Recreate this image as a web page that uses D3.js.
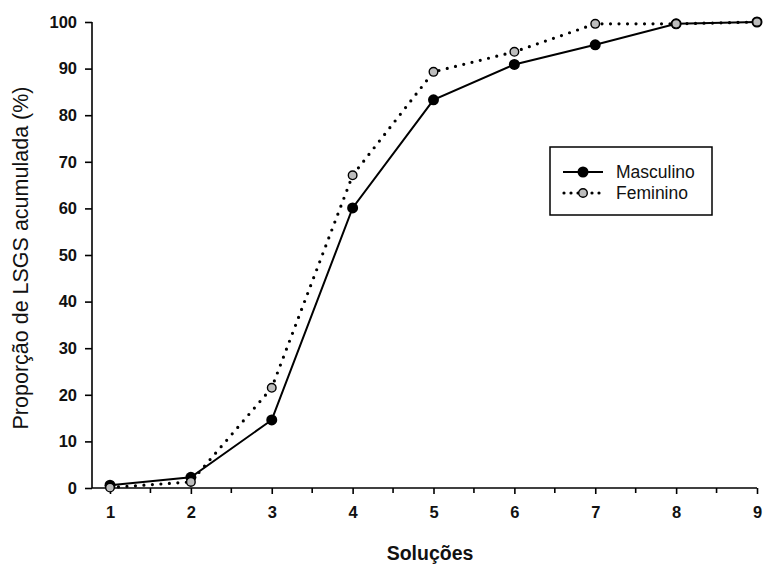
<!DOCTYPE html>
<html>
<head>
<meta charset="utf-8">
<script src="https://cdn.jsdelivr.net/npm/d3@7"></script>
<style>
  body { margin: 0; background: #fff; }
  svg { display: block; font-family: "Liberation Sans", Arial, sans-serif; }
</style>
</head>
<body>
<svg id="chart" width="763" height="566"></svg>
<script>
// Cumulative proportion of LSGS by number of solutions, per sex
const solucoes = [1, 2, 3, 4, 5, 6, 7, 8, 9];
const masculino = [0.6, 2.3, 14.6, 60.1, 83.3, 90.9, 95.1, 99.6, 100];
const feminino = [0.1, 1.3, 21.5, 67.1, 89.3, 93.6, 99.6, 99.6, 100];
const yTicks = [0, 10, 20, 30, 40, 50, 60, 70, 80, 90, 100];
const xTicks = [1, 2, 3, 4, 5, 6, 7, 8, 9];
const xMinorTicks = [1.5, 2.5, 3.5, 4.5, 5.5, 6.5, 7.5, 8.5];

const svg = d3.select("#chart");
const x = d3.scaleLinear().domain([1, 9]).range([110, 757]);
const y = d3.scaleLinear().domain([0, 100]).range([488, 22]);
const xLeft = 92;
const font = "Liberation Sans, Arial, sans-serif";

// Axes
const yAxis = d3.axisLeft(y).tickValues(yTicks).tickSize(7).tickPadding(8).tickSizeOuter(0);
const gy = svg.append("g").attr("transform", `translate(${xLeft},0)`).call(yAxis);
gy.select(".domain").remove();
gy.append("line").attr("x1", 0).attr("x2", 0).attr("y1", y(100)).attr("y2", y(0))
  .attr("stroke", "#000").attr("stroke-width", 1.6);
gy.selectAll(".tick line").attr("stroke-width", 1.6);
gy.selectAll(".tick text").attr("font-size", 16.5).attr("font-weight", "bold")
  .attr("fill", "#111").attr("font-family", font);

const xAxis = d3.axisBottom(x).tickValues(xTicks).tickSize(6).tickPadding(12).tickSizeOuter(0);
const gx = svg.append("g").attr("transform", `translate(0,${y(0)})`).call(xAxis);
gx.select(".domain").remove();
gx.append("line").attr("x1", xLeft).attr("x2", x(9)).attr("y1", 0).attr("y2", 0)
  .attr("stroke", "#000").attr("stroke-width", 1.6);
gx.selectAll(".tick line").attr("stroke-width", 1.6);
gx.selectAll(".tick text").attr("font-size", 16.5).attr("font-weight", "bold")
  .attr("fill", "#111").attr("font-family", font);
gx.selectAll(".minor").data(xMinorTicks).enter().append("line")
  .attr("x1", d => x(d)).attr("x2", d => x(d)).attr("y1", 0).attr("y2", 5)
  .attr("stroke", "#000").attr("stroke-width", 1.6);

// Axis titles
svg.append("text").attr("x", 430).attr("y", 560).attr("text-anchor", "middle")
  .attr("font-size", 19.5).attr("font-weight", "bold").attr("fill", "#111").text("Soluções");
svg.append("text").attr("transform", "translate(28,258) rotate(-90)")
  .attr("text-anchor", "middle").attr("font-size", 21.5).attr("fill", "#111")
  .text("Proporção de LSGS acumulada (%)");

// Series
const line = d3.line().x((d, i) => x(solucoes[i])).y(d => y(d));

svg.append("path").datum(feminino).attr("d", line).attr("fill", "none")
  .attr("stroke", "#000").attr("stroke-width", 3.2).attr("stroke-linecap", "round")
  .attr("stroke-dasharray", "0 8.5");
svg.append("path").datum(masculino).attr("d", line).attr("fill", "none")
  .attr("stroke", "#000").attr("stroke-width", 2);

svg.selectAll(".pm").data(masculino).enter().append("circle")
  .attr("cx", (d, i) => x(solucoes[i])).attr("cy", d => y(d)).attr("r", 5.5).attr("fill", "#000");
svg.selectAll(".pf").data(feminino).enter().append("circle")
  .attr("cx", (d, i) => x(solucoes[i])).attr("cy", d => y(d)).attr("r", 4.3)
  .attr("fill", "#bdbdbd").attr("stroke", "#000").attr("stroke-width", 1.4);

// Legend
const lg = svg.append("g");
lg.append("rect").attr("x", 550).attr("y", 147).attr("width", 162).attr("height", 68)
  .attr("fill", "#fff").attr("stroke", "#000").attr("stroke-width", 1.5);
lg.append("line").attr("x1", 563).attr("x2", 603).attr("y1", 172).attr("y2", 172)
  .attr("stroke", "#000").attr("stroke-width", 2);
lg.append("circle").attr("cx", 583).attr("cy", 172).attr("r", 5.5).attr("fill", "#000");
lg.append("line").attr("x1", 564).attr("x2", 603).attr("y1", 193).attr("y2", 193)
  .attr("stroke", "#000").attr("stroke-width", 3.2).attr("stroke-linecap", "round")
  .attr("stroke-dasharray", "0 7");
lg.append("circle").attr("cx", 583).attr("cy", 193).attr("r", 4.3)
  .attr("fill", "#bdbdbd").attr("stroke", "#000").attr("stroke-width", 1.4);
lg.append("text").attr("x", 616).attr("y", 178).attr("font-size", 17.5).attr("fill", "#111").text("Masculino");
lg.append("text").attr("x", 616).attr("y", 199).attr("font-size", 17.5).attr("fill", "#111").text("Feminino");
</script>
</body>
</html>
